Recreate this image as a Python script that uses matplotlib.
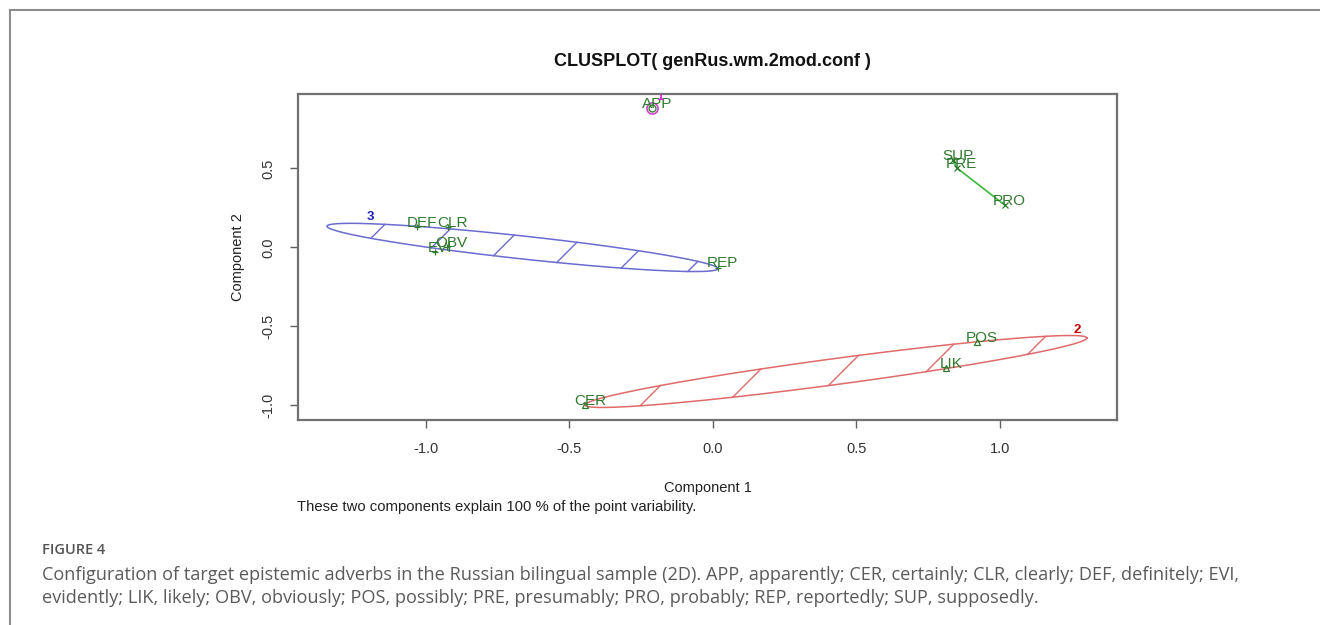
import numpy as np
import matplotlib
matplotlib.use("Agg")
import matplotlib.pyplot as plt
from matplotlib.lines import Line2D

# ---------------- data ----------------
labels = ["APP", "CER", "CLR", "DEF", "EVI", "LIK", "OBV", "POS", "PRE", "PRO", "REP", "SUP"]
comp1 = [-0.213, -0.446, -0.923, -1.031, -0.969, 0.812, -0.927, 0.920, 0.850, 1.017, 0.017, 0.836]
comp2 = [0.883, -0.997, 0.127, 0.127, -0.032, -0.763, 0.000, -0.598, 0.503, 0.268, -0.127, 0.554]
cluster = [1, 2, 3, 3, 3, 2, 3, 2, 4, 4, 3, 4]

# cluster ellipses (clusters 2 and 3): tips of the long axis and vertical half-height
ell_cluster = [2, 3]
ell_x1 = [-0.446, -1.345]
ell_y1 = [-0.997, 0.134]
ell_x2 = [1.303, 0.017]
ell_y2 = [-0.573, -0.134]
ell_h = [0.083, 0.073]

# cluster number labels
clab_text = ["1", "2", "3"]
clab_x = [-0.185, 1.268, -1.195]
clab_y = [0.955, -0.522, 0.190]

xticks = [-1.0, -0.5, 0.0, 0.5, 1.0]
yticks = [-1.0, -0.5, 0.0, 0.5]

title = "CLUSPLOT( genRus.wm.2mod.conf )"
xlabel = "Component 1"
ylabel = "Component 2"
subtitle = "These two components explain 100 % of the point variability."
fig_label = "FIGURE 4"
caption1 = ("Configuration of target epistemic adverbs in the Russian bilingual sample (2D). "
            "APP, apparently; CER, certainly; CLR, clearly; DEF, definitely; EVI,")
caption2 = ("evidently; LIK, likely; OBV, obviously; POS, possibly; PRE, presumably; "
            "PRO, probably; REP, reportedly; SUP, supposedly.")

# ---------------- styles ----------------
W, H = 1320, 625
FONT = "Liberation Sans"
clus_color = {1: "#cc44cc", 2: "#e06a6a", 3: "#6b6bd0", 4: "#3cb83c"}
clab_color = {"1": "#cc33cc", "2": "#c00000", "3": "#2020b0"}
marker_of = {1: "o", 2: "^", 3: "+", 4: "x"}
pt_color = "#2f7a2f"
hatch_sum_spacing = {2: 84.0, 3: 70.0}   # pixel spacing of 45 deg shading lines
hatch_phase = 56.0

fig = plt.figure(figsize=(W / 100, H / 100), dpi=100)
fig.patch.set_facecolor("white")

ax = fig.add_axes([298 / W, (H - 420) / H, (1117 - 298) / W, (420 - 94) / H])
ax.set_xlim(-1.446, 1.408)
ax.set_ylim(-1.092, 0.971)

for sp in ax.spines.values():
    sp.set_color("#707070")
    sp.set_linewidth(1.6)

ax.set_xticks(xticks)
ax.set_yticks(yticks)
ax.set_xticklabels([f"{v:.1f}" for v in xticks], fontfamily=FONT, fontsize=10.5, color="#333333")
ax.set_yticklabels([f"{v:.1f}" for v in yticks], fontfamily=FONT, fontsize=10.5, color="#333333",
                   rotation=90, va="center")
ax.tick_params(axis="both", direction="out", length=6, width=1, color="#606060", pad=10)

ax.set_xlabel(xlabel, fontfamily=FONT, fontsize=10.5, color="#222222", labelpad=18)
ax.set_ylabel(ylabel, fontfamily=FONT, fontsize=10.5, color="#222222", labelpad=12)
fig.text(712 / W, 1 - 62 / H, title, fontfamily=FONT, fontsize=13, fontweight="bold",
         ha="center", va="center", color="#111111")
fig.text(297 / W, 1 - 507 / H, subtitle, fontfamily=FONT, fontsize=10.7, ha="left",
         va="center", color="#222222")

x = np.array(comp1)
y = np.array(comp2)
cl = np.array(cluster)

# ellipses with shading
t = np.linspace(0, 2 * np.pi, 400)
for c, x1, y1, x2, y2, h in zip(ell_cluster, ell_x1, ell_y1, ell_x2, ell_y2, ell_h):
    cx, cy = (x1 + x2) / 2, (y1 + y2) / 2
    ux, uy = (x2 - x1) / 2, (y2 - y1) / 2
    ex = cx + ux * np.cos(t)
    ey = cy + uy * np.cos(t) + h * np.sin(t)
    ax.plot(ex, ey, color=clus_color[c], lw=1.1, zorder=2)
    # shading lines at 45 degrees in display space
    disp = ax.transData.transform(np.column_stack([ex, ey]))
    tip = ax.transData.transform([[x1, y1]])[0]
    f_all = disp[:, 1] - disp[:, 0]
    c0 = (tip[1] - tip[0]) - hatch_phase
    k = 0
    while True:
        cval = c0 - k * hatch_sum_spacing[c]
        if cval < f_all.min():
            break
        f = f_all - cval
        cross = []
        for i in range(len(f) - 1):
            if f[i] == 0 or f[i] * f[i + 1] < 0:
                a = f[i] / (f[i] - f[i + 1]) if f[i] != f[i + 1] else 0
                cross.append(disp[i] + a * (disp[i + 1] - disp[i]))
        if len(cross) >= 2:
            seg = ax.transData.inverted().transform(np.array([cross[0], cross[-1]]))
            ax.plot(seg[:, 0], seg[:, 1], color=clus_color[c], lw=1.0, zorder=2)
        k += 1

# cluster 4: degenerate ellipse drawn as a line
m4 = cl == 4
order = np.argsort(x[m4])
ax.plot(x[m4][order], y[m4][order], color=clus_color[4], lw=1.2, zorder=2)

# cluster 1: single point, small circle
m1 = cl == 1
ax.plot(x[m1], y[m1], linestyle="none", marker="o", markersize=8, mfc="none",
        mec=clus_color[1], mew=1.2, zorder=2)

# points
for c in sorted(set(cluster)):
    m = cl == c
    ax.plot(x[m], y[m], linestyle="none", marker=marker_of[c], markersize=5,
            mfc="none", mec=pt_color, color=pt_color, mew=0.9, zorder=3)

# point labels
for lbl, xi, yi in zip(labels, comp1, comp2):
    ax.annotate(lbl, (xi, yi), xytext=(3.5, 3), textcoords="offset points",
                ha="center", va="center", fontfamily=FONT, fontsize=11,
                color=pt_color, zorder=4, annotation_clip=False)

# cluster numbers
for s, xi, yi in zip(clab_text, clab_x, clab_y):
    ax.text(xi, yi, s, ha="center", va="center", fontfamily=FONT, fontsize=9.5,
            fontweight="bold", color=clab_color[s], zorder=4, clip_on=True)

# outer frame of the figure panel
fig.add_artist(Line2D([10 / W, 10 / W], [0, 1 - 10 / H], transform=fig.transFigure,
                      color="#8c8c8c", lw=1.5))
fig.add_artist(Line2D([10 / W, 1], [1 - 10 / H, 1 - 10 / H], transform=fig.transFigure,
                      color="#8c8c8c", lw=1.5))

# caption
CAP = "Open Sans"
fig.text(42 / W, 1 - 550 / H, fig_label, fontfamily=CAP, fontsize=10.5, fontweight="semibold",
         color="#555555", ha="left", va="center")
fig.text(42 / W, 1 - 575 / H, caption1, fontfamily=CAP, fontsize=13.1, color="#5a5a5a",
         ha="left", va="center")
fig.text(42 / W, 1 - 598 / H, caption2, fontfamily=CAP, fontsize=13.1, color="#5a5a5a",
         ha="left", va="center")

fig.savefig("out.png", dpi=100, facecolor="white")
